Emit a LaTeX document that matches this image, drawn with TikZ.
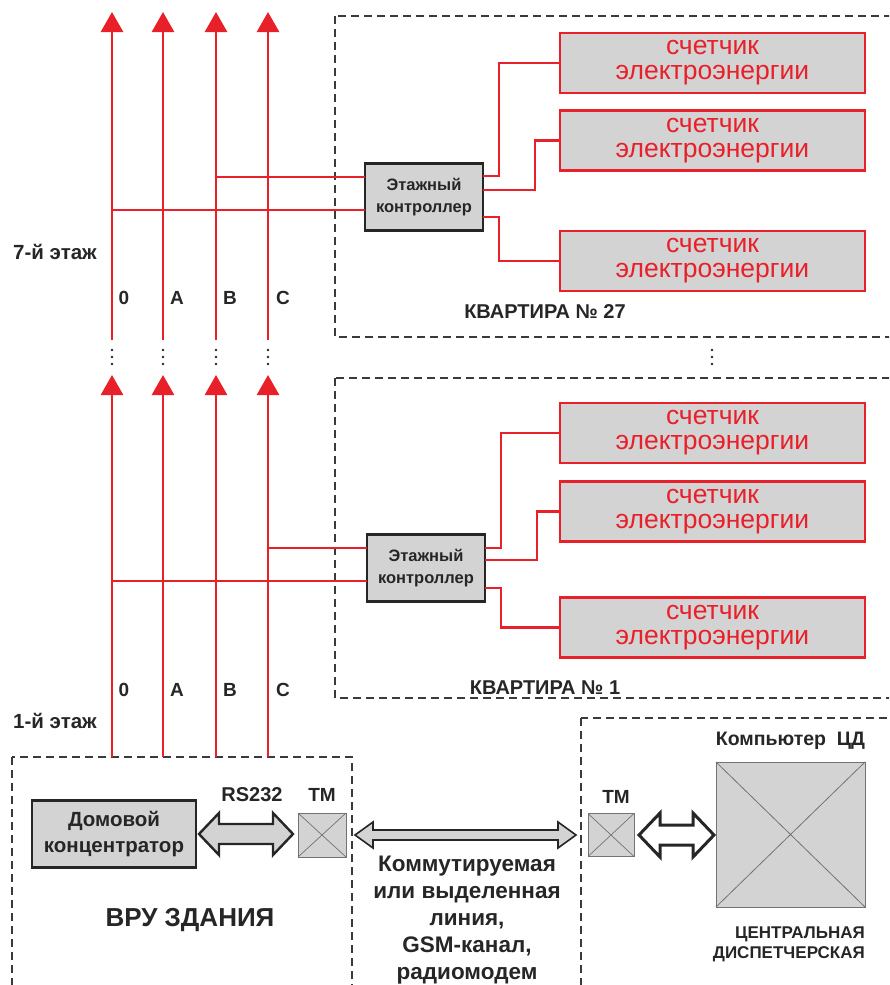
\documentclass[tikz,border=0pt]{standalone}
\usepackage{fontspec}
\setmainfont{Liberation Sans}
\usetikzlibrary{arrows.meta,calc}
\definecolor{wirered}{HTML}{E8202A}
\definecolor{boxgray}{HTML}{D3D3D3}
\definecolor{dashgray}{HTML}{3A3A3A}
\definecolor{inkdark}{HTML}{262626}

% hollow double-headed arrow between two points:
% #1 start, #2 end, #3 head length, #4 head half-height, #5 shaft half-height, #6 style
\newcommand\twinarrow[6]{%
  \draw[#6] let \p1=(#1), \p2=(#2) in
    (\x1,\y1) -- (\x1+#3pt,\y1+#4pt) -- (\x1+#3pt,\y1+#5pt) -- (\x2-#3pt,\y1+#5pt)
    -- (\x2-#3pt,\y1+#4pt) -- (\x2,\y1) -- (\x2-#3pt,\y1-#4pt) -- (\x2-#3pt,\y1-#5pt)
    -- (\x1+#3pt,\y1-#5pt) -- (\x1+#3pt,\y1-#4pt) -- cycle;}

\tikzset{
  wire/.style={draw=wirered, line width=2.7pt},
  bus/.style={wire, -{Triangle[width=22pt,length=20pt]}},
  zone/.style={draw=dashgray, line width=1.8pt, dash pattern=on 8pt off 5pt},
  meter/.style={draw=wirered, line width=2.6pt, fill=boxgray, minimum width=305pt,
    minimum height=60pt, inner sep=0pt, outer sep=0pt, text=wirered, align=center,
    font=\fontsize{26.5}{25}\selectfont},
  ctrl/.style={draw=inkdark, line width=2.6pt, fill=boxgray, minimum width=118pt,
    minimum height=67pt, inner sep=0pt, outer sep=0pt, align=center, text=inkdark,
    font=\bfseries\fontsize{16.5}{22}\selectfont},
  tm/.style={draw=black!55, line width=0.8pt, fill=boxgray, inner sep=0pt, outer sep=0pt},
  lbl/.style={text=inkdark, inner sep=0pt, font=\bfseries\fontsize{19}{21}\selectfont},
  dot/.style={fill=inkdark},
}

\begin{document}
\begin{tikzpicture}[x=1pt,y=-1pt]
\useasboundingbox (0,0) rectangle (889,985);
\clip (0,0) rectangle (889,985);

% ---- dashed zones ----
\draw[zone] (335,16) rectangle (910,337);
\draw[zone] (335,378) rectangle (910,698);
\draw[zone] (12,757) rectangle (352,1010);
\draw[zone] (581,718) rectangle (910,1010);

% ---- riser buses (upper floor) ----
\coordinate (u0b) at (112,340); \coordinate (u0t) at (112,12);
\coordinate (uAb) at (163,340); \coordinate (uAt) at (163,12);
\coordinate (uBb) at (216,340); \coordinate (uBt) at (216,12);
\coordinate (uCb) at (268,340); \coordinate (uCt) at (268,12);
\draw[bus] (u0b) -- (u0t);
\draw[bus] (uAb) -- (uAt);
\draw[bus] (uBb) -- (uBt);
\draw[bus] (uCb) -- (uCt);

% ---- riser buses (first floor) ----
\coordinate (l0b) at (112,757); \coordinate (l0t) at (112,375);
\coordinate (lAb) at (163,757); \coordinate (lAt) at (163,375);
\coordinate (lBb) at (216,757); \coordinate (lBt) at (216,375);
\coordinate (lCb) at (268,757); \coordinate (lCt) at (268,375);
\draw[bus] (l0b) -- (l0t);
\draw[bus] (lAb) -- (lAt);
\draw[bus] (lBb) -- (lBt);
\draw[bus] (lCb) -- (lCt);

% ---- ellipsis dots between floors ----
\foreach \x in {112,163,216,268,712}
  \foreach \y in {350,357,364}
    \fill[dot] (\x,\y) circle (1.4pt);

% ---- apartment 27 ----
\node[ctrl] (cU) at (424,197) {Этажный\\контроллер};
\node[meter] (mU1) at (712.5,63) {счетчик\\электроэнергии};
\node[meter] (mU2) at (712.5,140.5) {счетчик\\электроэнергии};
\node[meter] (mU3) at (712.5,261) {счетчик\\электроэнергии};

\coordinate (cUa) at ($(cU.west)+(0,-20)$);
\coordinate (cUb) at ($(cU.west)+(0,13)$);
\draw[wire] (cUa) -- (cUa -| uBb);
\draw[wire] (cUb) -- (cUb -| u0b);
\draw[wire] ($(cU.east)+(0,-21)$) -- ++(16,0) |- (mU1.west);
\draw[wire] ($(cU.east)+(0,-7)$) -- ++(52,0) |- (mU2.west);
\draw[wire] ($(cU.east)+(0,20)$) -- ++(16,0) |- (mU3.west);

\node[lbl, font=\bfseries\fontsize{20}{22}\selectfont] (apt27) at (545,312) {КВАРТИРА № 27};

% ---- apartment 1 ----
\node[ctrl] (cL) at (426,568) {Этажный\\контроллер};
\node[meter] (mL1) at (712.5,433) {счетчик\\электроэнергии};
\node[meter] (mL2) at (712.5,511.5) {счетчик\\электроэнергии};
\node[meter] (mL3) at (712.5,627.5) {счетчик\\электроэнергии};

\coordinate (cLa) at ($(cL.west)+(0,-20)$);
\coordinate (cLb) at ($(cL.west)+(0,13)$);
\draw[wire] (cLa) -- (cLa -| lCb);
\draw[wire] (cLb) -- (cLb -| l0b);
\draw[wire] ($(cL.east)+(0,-20)$) -- ++(16,0) |- (mL1.west);
\draw[wire] ($(cL.east)+(0,-8)$) -- ++(52,0) |- (mL2.west);
\draw[wire] ($(cL.east)+(0,20)$) -- ++(16,0) |- (mL3.west);

\node[lbl, font=\bfseries\fontsize{20}{22}\selectfont] (apt1) at (545,688) {КВАРТИРА № 1};

% ---- floor and phase labels ----
\node[lbl, font=\bfseries\fontsize{20.5}{22}\selectfont] (fl7) at (55,252) {7-й этаж};
\node[lbl, font=\bfseries\fontsize{20.5}{22}\selectfont] (fl1) at (55,721) {1-й этаж};
\node[lbl] (u0) at (124,298) {0};
\node[lbl] (uA) at (177,298) {A};
\node[lbl] (uB) at (230,298) {B};
\node[lbl] (uC) at (283,298) {C};
\node[lbl] (l0) at (124,690) {0};
\node[lbl] (lA) at (177,690) {A};
\node[lbl] (lB) at (230,690) {B};
\node[lbl] (lC) at (283,690) {C};

% ---- building input switchgear ----
\node[ctrl, minimum width=164pt, minimum height=67pt,
      font=\bfseries\fontsize{20.5}{26}\selectfont] (conc) at (114,834) {Домовой\\концентратор};
\node[tm, minimum width=48pt, minimum height=44pt] (tmL) at (322,835) {};
\draw[black!55, line width=0.7pt] (tmL.north west) -- (tmL.south east)
                                  (tmL.north east) -- (tmL.south west);
\node[lbl, font=\bfseries\fontsize{20}{22}\selectfont] (rs) at (252,795) {RS232};
\node[lbl] (tmLl) at (322,795) {ТМ};
\node[lbl, font=\bfseries\fontsize{26}{28}\selectfont] (vru) at (190,920) {ВРУ ЗДАНИЯ};

\coordinate (a1s) at ($(conc.east)+(3,0)$);
\coordinate (a1e) at ($(tmL.west |- conc.east)+(-5,0)$);
\twinarrow{a1s}{a1e}{20}{21}{10}{draw=inkdark, line width=2.4pt, fill=boxgray, line join=miter}

% ---- channel ----
\node[tm, minimum width=46pt, minimum height=43pt] (tmR) at (611,835) {};
\draw[black!55, line width=0.7pt] (tmR.north west) -- (tmR.south east)
                                  (tmR.north east) -- (tmR.south west);
\coordinate (a2s) at ($(tmL.east)+(9,0)$);
\coordinate (a2e) at ($(tmR.west)+(-12,0)$);
\twinarrow{a2s}{a2e}{18}{13}{5}{draw=inkdark, line width=1.6pt, fill=boxgray, line join=miter}

\node[lbl, align=center, font=\bfseries\fontsize{22.5}{27}\selectfont] (chan) at (467,920)
  {Коммутируемая\\или выделенная\\линия,\\GSM-канал,\\радиомодем};

% ---- central dispatch ----
\node[lbl] (tmRl) at (616,797) {ТМ};
\node[tm, minimum width=149pt, minimum height=145pt] (pc) at (790.5,834.5) {};
\draw[black!55, line width=0.8pt] (pc.north west) -- (pc.south east)
                                  (pc.north east) -- (pc.south west);
\node[lbl, font=\bfseries\fontsize{19.5}{21}\selectfont] (pcl) at (790.5,741) {Компьютер\ \ ЦД};
\coordinate (a3s) at ($(tmR.east)+(5,0)$);
\coordinate (a3e) at ($(pc.west)+(-2,0)$);
\twinarrow{a3s}{a3e}{21}{22}{10}{draw=inkdark, line width=3pt, fill=white, line join=miter}

\node[lbl, align=right, anchor=east, font=\bfseries\fontsize{17}{20}\selectfont] (cd) at (865,944)
  {ЦЕНТРАЛЬНАЯ\\ДИСПЕТЧЕРСКАЯ};
\end{tikzpicture}
\end{document}
